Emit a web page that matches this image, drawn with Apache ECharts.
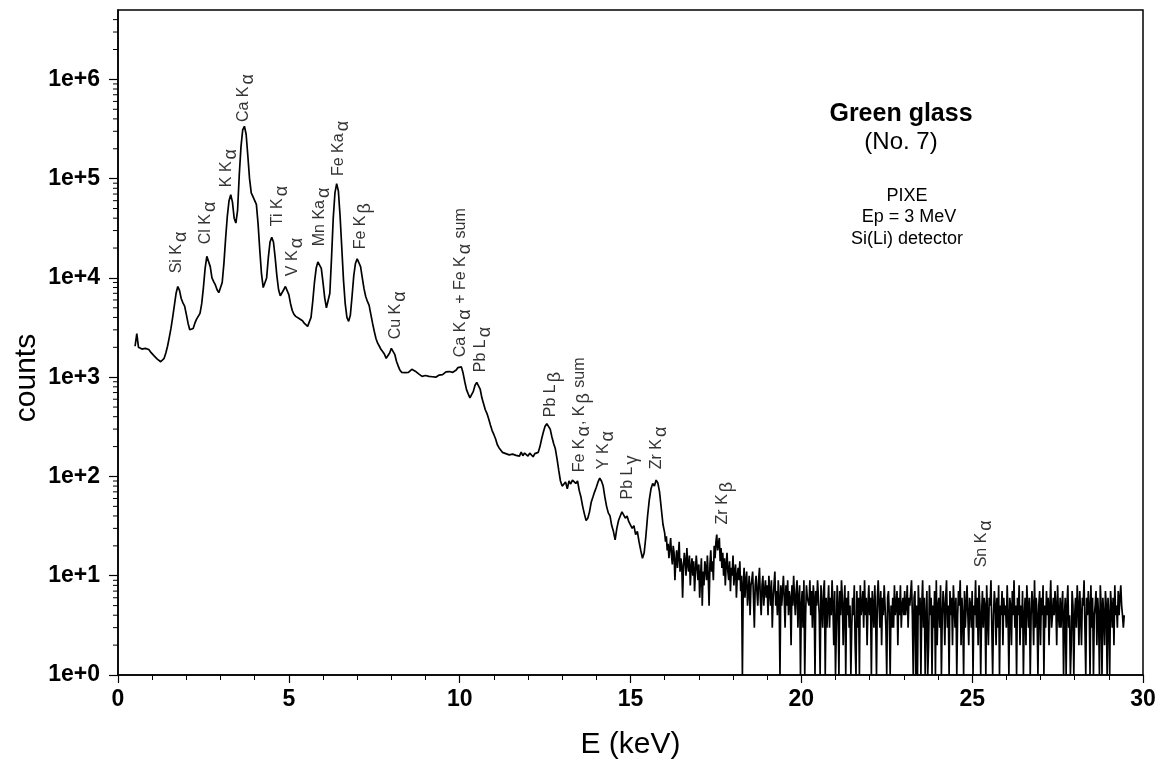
<!DOCTYPE html>
<html>
<head>
<meta charset="utf-8">
<script src="https://cdn.jsdelivr.net/npm/echarts@6/dist/echarts.min.js"></script>
<style>html,body{margin:0;padding:0;background:#fff}#chart{width:1163px;height:767px}</style>
</head>
<body>
<div id="chart"></div>
<script>
// ---- spectrum, part A: 0.50 - 15.95 keV, channel width 0.05 keV ----
const energyStartA = 0.5;
const energyStepA = 0.05;
const countsA = [
  2050, 2750, 2000, 1950, 1920, 1900, 1950, 2030, 1900, 1800,
  1720, 1650, 1580, 1520, 1470, 1430, 1450, 1550, 1750, 2050,
  2500, 3100, 4000, 5300, 7000, 8200, 7500, 6200, 5600, 5200,
  4300, 3500, 3000, 2900, 3100, 3500, 3850, 4000, 4400, 5500,
  8000, 12500, 16500, 16800, 13000, 10000, 9200, 8500, 7600, 7100,
  7100, 9000, 14000, 25000, 42000, 60000, 69000, 58000, 40000, 35700,
  48000, 110000, 210000, 310000, 337000, 280000, 170000, 100000, 72000, 66000,
  67000, 55000, 35000, 19000, 11000, 8000, 7700, 10000, 16000, 23000,
  25600, 23000, 16000, 10500, 7600, 6600, 6600, 7600, 8200, 8000,
  6800, 5500, 4700, 4300, 4100, 3950, 3900, 3800, 3700, 3500,
  3350, 3250, 3300, 4000, 5800, 9000, 12500, 14500, 14700, 12500,
  9000, 6300, 5000, 4800, 7000, 16000, 40000, 72000, 89000, 75000,
  42000, 20000, 9500, 5500, 4000, 3650, 4200, 6500, 10500, 14000,
  15600, 15500, 13000, 10000, 7800, 6500, 5800, 5300, 4300, 3500,
  2900, 2450, 2200, 2050, 1900, 1800, 1700, 1550, 1520, 1750,
  1950, 1950, 1700, 1450, 1300, 1180, 1120, 1100, 1110, 1130,
  1120, 1150, 1200, 1220, 1150, 1100, 1080, 1050, 1020, 1010,
  1040, 1000, 1020, 990, 1010, 1030, 1000, 1010, 1050, 1080,
  1060, 1100, 1130, 1090, 1140, 1110, 1120, 1150, 1180, 1250,
  1300, 1270, 1100, 900, 750, 680, 620, 640, 720, 830,
  885, 870, 760, 620, 540, 470, 430, 380, 330, 290,
  265, 240, 210, 195, 185, 175, 182, 170, 178, 165,
  172, 168, 175, 163, 170, 160, 176, 162, 172, 168,
  160, 172, 165, 158, 170, 163, 175, 200, 240, 280,
  320, 340, 345, 300, 250, 215, 190, 150, 115, 90,
  80, 79, 88, 75, 90, 84, 92, 88, 85, 90,
  72, 62, 50, 42, 36, 38, 44, 55, 62, 70,
  78, 88, 96, 90, 80, 62, 50, 43, 40, 32,
  28, 23, 30, 36, 40, 44, 46, 38, 40, 35,
  34, 30, 32, 26, 28, 22, 18, 15, 17, 25,
  40, 58, 75, 85, 80, 92, 86, 70, 48, 33
];
// ---- spectrum, part B: 16.00 - 29.45 keV, channel width 0.025 keV ----
const energyStartB = 16.0;
const energyStepB = 0.025;
const countsB = [
  27, 22, 25, 18, 21, 15, 19, 24, 16, 13, 20, 17, 9, 14, 18, 12, 16, 22, 11, 15,
  13, 6, 12, 17, 14, 10, 19, 13, 11, 16, 8, 12, 15, 10, 14, 7, 11, 16, 12, 9,
  13, 6, 10, 15, 5, 11, 8, 14, 12, 9, 16, 10, 5, 13, 18, 11, 14, 9, 20, 15,
  22, 26, 18, 21, 24, 14, 19, 12, 17, 10,
  15, 8, 13, 17, 11, 9, 14, 7, 12, 10, 16, 8, 11, 13, 6, 10, 12, 9, 14, 7,
  10, 1, 8, 12, 6, 9, 11, 5, 7, 10, 4, 8, 9, 11, 6, 3, 8, 10, 7, 5, 9, 12, 6, 4, 8, 10, 5, 7, 9, 6,
  8, 4, 10, 7, 5, 9, 3, 6, 8, 11, 5, 7, 4, 9, 6, 1, 8, 5, 7, 10,
  6, 3, 8, 5, 9, 4, 7, 6, 2, 8, 5, 10, 6, 4, 7, 9, 3, 6, 8, 1,
  5, 7, 3, 9, 1, 4, 8, 6, 6, 5, 9, 4, 7, 3, 8, 6, 1, 7, 5, 9,
  6, 4, 1, 8, 5, 3, 7, 9, 1, 6, 3, 5, 8, 3, 6, 4, 9, 5, 2, 7,
  1, 3, 8, 5, 1, 7, 4, 9, 6, 2, 5, 8, 1, 6, 4, 7, 3, 5, 1, 3,
  6, 4, 8, 2, 1, 7, 3, 6, 1, 8, 4, 5, 7, 3, 9, 4, 6, 2, 5, 8,
  4, 6, 1, 7, 5, 3, 8, 4, 1, 6, 9, 5, 3, 7, 2, 6, 4, 8, 5, 3,
  1, 6, 7, 4, 1, 5, 3, 6, 3, 8, 4, 5, 7, 2, 6, 4, 8, 3, 5, 6,
  4, 7, 4, 5, 8, 3, 6, 5, 5, 9, 4, 1, 6, 7, 1, 5, 1, 8, 4, 6,
  1, 5, 9, 3, 6, 1, 4, 7, 1, 2, 8, 4, 6, 1, 5, 3, 7, 1, 9, 2,
  5, 6, 3, 8, 1, 4, 7, 5, 2, 6, 9, 3, 5, 1, 7, 4, 6, 2, 8, 5,
  3, 6, 1, 4, 7, 5, 9, 2, 6, 4, 1, 7, 3, 5, 8, 4, 2, 6, 5, 3,
  7, 1, 5, 4, 9, 3, 6, 2, 8, 5, 1, 4, 7, 3, 6, 5, 1, 8, 4, 2,
  6, 5, 9, 3, 1, 4, 7, 5, 2, 6, 3, 8, 1, 5, 4, 7, 2, 6, 4, 5,
  3, 8, 4, 1, 6, 5, 2, 7, 4, 9, 3, 5, 1, 6, 4, 8, 2, 5, 3, 7,
  1, 4, 6, 2, 8, 5, 3, 6, 1, 4, 7, 5, 2, 9, 3, 6, 4, 1, 5, 7,
  2, 6, 4, 8, 1, 5, 3, 7, 4, 6, 2, 5, 9, 3, 4, 6, 4, 7, 5, 2,
  8, 4, 3, 6, 3, 5, 7, 1, 4, 6, 1, 5, 8, 3, 4, 1, 2, 7, 5, 1,
  4, 6, 3, 8, 5, 2, 7, 4, 2, 6, 5, 9, 3, 1, 6, 4, 7, 5, 1, 8,
  3, 6, 1, 4, 5, 7, 2, 6, 4, 1, 8, 5, 1, 6, 4, 2, 7, 5, 1, 6,
  4, 1, 7, 5, 3, 6, 2, 8, 4, 5, 3, 7, 4, 6, 8, 5, 4, 3, 4
];

// ---- peak annotations ----
const peakLabels = [
  'Si K{s|α}', 'Cl K{s|α}', 'K K{s|α}', 'Ca K{s|α}', 'Ti K{s|α}', 'V K{s|α}',
  'Mn Ka{s|α}', 'Fe Ka{s|α}', 'Fe K{s|β}', 'Cu K{s|α}', 'Ca K{s|α} + Fe K{s|α} sum',
  'Pb L{s|α}', 'Pb L{s|β}', 'Fe K{s|α}, K{s|β} sum', 'Y K{s|α}', 'Pb L{s|γ}',
  'Zr K{s|α}', 'Zr K{s|β}', 'Sn K{s|α}'
];
const peakLabelEnergy = [1.73, 2.58, 3.19, 3.69, 4.68, 5.12, 5.91, 6.47, 7.11, 8.14, 10.04, 10.62, 12.67, 13.52, 14.22, 14.93, 15.77, 17.71, 25.29];
const peakLabelCounts = [11000, 21600, 81000, 367000, 32800, 10300, 20600, 105000, 19200, 2380, 1570, 1108, 390, 109, 117, 58, 117, 32.5, 12];

// ---- axes ----
const yTickLabels = ['1e+0', '1e+1', '1e+2', '1e+3', '1e+4', '1e+5', '1e+6'];
const yMinorMultipliers = [2, 3, 4, 5, 6, 7, 8, 9];
const titleLines = ['Green glass', '(No. 7)'];
const infoLines = ['PIXE', 'Ep = 3 MeV', 'Si(Li) detector'];

const FONT = '"Liberation Sans", Arial, sans-serif';

const spectrum = [];
countsA.forEach((c, i) => spectrum.push([+(energyStartA + i * energyStepA).toFixed(3), c]));
countsB.forEach((c, i) => spectrum.push([+(energyStartB + i * energyStepB).toFixed(3), c]));

const labelData = peakLabels.map((t, i) => ({ value: [peakLabelEnergy[i], peakLabelCounts[i]], name: t }));

const minorTickData = [];
for (let e = 0; e <= 6; e++) {
  yMinorMultipliers.forEach(m => {
    const v = m * Math.pow(10, e);
    if (v < 5e6) minorTickData.push([0, v]);
  });
}

const chart = echarts.init(document.getElementById('chart'), null, { renderer: 'canvas' });
chart.setOption({
  animation: false,
  backgroundColor: '#fff',
  grid: { left: 118, right: 20, top: 10, bottom: 92, show: true, borderColor: '#000', borderWidth: 1.5, backgroundColor: 'transparent' },
  xAxis: {
    type: 'value', min: 0, max: 30, interval: 5,
    name: 'E (keV)', nameLocation: 'middle', nameGap: 55,
    nameTextStyle: { fontFamily: FONT, fontSize: 30, color: '#000' },
    axisLine: { show: true, lineStyle: { color: '#000', width: 1.5 } },
    axisTick: { show: true, length: 8, lineStyle: { color: '#000', width: 1.2 } },
    minorTick: { show: true, splitNumber: 5, length: 5, lineStyle: { color: '#000', width: 1 } },
    axisLabel: { fontFamily: FONT, fontWeight: 'bold', fontSize: 23, color: '#000', margin: 13 },
    splitLine: { show: false }, minorSplitLine: { show: false }
  },
  yAxis: {
    type: 'log', logBase: 10, min: 1, max: 5e6,
    axisLine: { show: true, lineStyle: { color: '#000', width: 1.5 } },
    axisTick: { show: true, length: 9, lineStyle: { color: '#000', width: 1.2 } },
    axisLabel: {
      fontFamily: FONT, fontWeight: 'bold', fontSize: 23, color: '#000', margin: 18, showMaxLabel: false,
      formatter: v => {
        const l = Math.log10(v), e = Math.round(l);
        return Math.abs(l - e) < 1e-6 && yTickLabels[e] ? yTickLabels[e] : '';
      }
    },
    splitLine: { show: false }
  },
  series: [
    {
      type: 'line', data: spectrum, showSymbol: false, symbol: 'none',
      lineStyle: { color: '#000', width: 1.7 }, clip: true, silent: true, z: 3
    },
    {
      type: 'custom', data: minorTickData, silent: true, clip: false, z: 4,
      renderItem: (params, api) => {
        const p = api.coord([0, api.value(1)]);
        return { type: 'line', shape: { x1: p[0] - 5, y1: p[1], x2: p[0], y2: p[1] }, style: { stroke: '#000', lineWidth: 1 } };
      }
    },
    {
      type: 'scatter', data: labelData, symbol: 'circle', symbolSize: 1,
      itemStyle: { color: 'rgba(0,0,0,0)' }, silent: true, z: 5,
      label: {
        show: true, position: [0, 0], rotate: 90, align: 'left', verticalAlign: 'middle',
        formatter: p => p.name,
        fontFamily: FONT, fontSize: 16, color: '#000', lineHeight: 18,
        rich: { s: { fontFamily: FONT, fontSize: 18, color: '#000', lineHeight: 10, padding: [9, 1, 0, 2] } }
      },
      labelLayout: { hideOverlap: false }
    }
  ],
  graphic: [
    { type: 'text', x: 27, y: 378, rotation: Math.PI / 2,
      style: { text: 'counts', font: '30px ' + FONT, fill: '#000', textAlign: 'center', textVerticalAlign: 'middle' } },
    { type: 'text', x: 901, y: 114, style: { text: titleLines[0], font: 'bold 25px ' + FONT, fill: '#000', textAlign: 'center', textVerticalAlign: 'middle' } },
    { type: 'text', x: 901, y: 142, style: { text: titleLines[1], font: '24px ' + FONT, fill: '#000', textAlign: 'center', textVerticalAlign: 'middle' } },
    { type: 'text', x: 907, y: 196, style: { text: infoLines[0], font: '18px ' + FONT, fill: '#000', textAlign: 'center', textVerticalAlign: 'middle' } },
    { type: 'text', x: 909, y: 217, style: { text: infoLines[1], font: '18px ' + FONT, fill: '#000', textAlign: 'center', textVerticalAlign: 'middle' } },
    { type: 'text', x: 907, y: 239, style: { text: infoLines[2], font: '18px ' + FONT, fill: '#000', textAlign: 'center', textVerticalAlign: 'middle' } }
  ]
});
</script>
</body>
</html>
